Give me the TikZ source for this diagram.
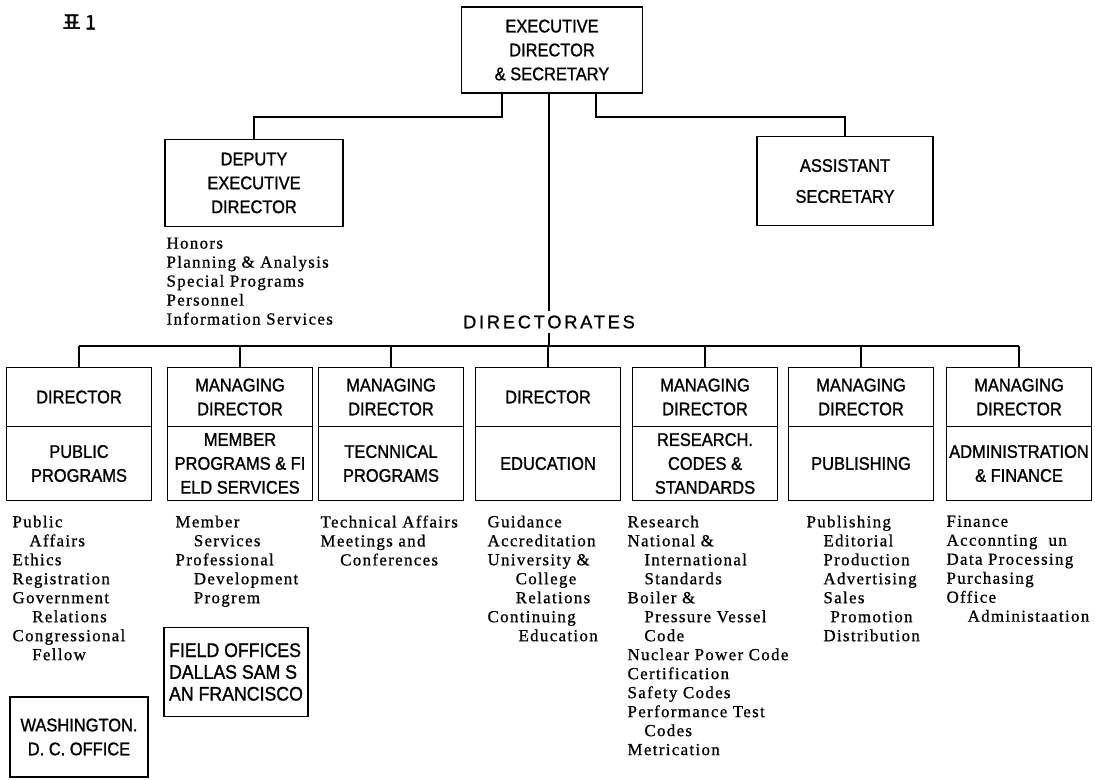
\documentclass[tikz,border=0pt]{standalone}
\usepackage{fontspec}
\setmainfont{Liberation Serif}
\newfontfamily\boxfont[FakeStretch=0.9,FakeBold=1.2]{Liberation Sans}
\newfontfamily\dirfont[LetterSpace=15,FakeBold=1]{Liberation Sans}
\newfontfamily\listfont[LetterSpace=8,FakeBold=0.8]{Liberation Serif}
\newfontfamily\krfont[FakeBold=2]{Noto Sans CJK KR}
\usetikzlibrary{positioning, calc}
\newcommand{\ind}[1][12pt]{\hspace*{#1}}

\begin{document}
\begin{tikzpicture}[
		x=0.025cm, y=-0.025cm,
		thick,
		officebox/.style={
				rectangle,
				draw,
				very thick,
				align=center,
				inner sep=0pt,
				outer sep=0pt,
				font={\boxfont\fontsize{13}{17}\selectfont}
			},
		headbox/.style={
				officebox,
				minimum width=3.625cm,
				minimum height=1.475cm
			},
		unitbox/.style={
				officebox,
				minimum width=3.625cm,
				minimum height=1.85cm,
				below=0pt of #1
			},
		duties/.style={
				anchor=north west,
				align=left,
				inner sep=0pt,
				font={\listfont\fontsize{12}{13.5}\selectfont}
			},
		]

		\useasboundingbox (0,0) rectangle (1095,779);

		\node[anchor=west, inner sep=0pt, font={\krfont\fontsize{14}{16}\selectfont}] (fig) at (62,22) {표 1};

		% top of the chart
		\node[officebox, minimum width=4.525cm, minimum height=2.15cm] (exec) at (552,50) {EXECUTIVE\\DIRECTOR\\\& SECRETARY};

		\node[officebox, minimum width=4.45cm, minimum height=2.175cm] (deputy) at (254,183) {DEPUTY\\EXECUTIVE\\DIRECTOR};

		\node[officebox, minimum width=4.4cm, minimum height=2.225cm] (assist) at (845,181) {ASSISTANT\\[5pt]SECRETARY};

		\node[duties] (depduties) at (166,237) {Honors\\Planning \& Analysis\\Special Programs\\Personnel\\Information Services};

		\node[inner sep=3pt, font={\dirfont\fontsize{13}{15}\selectfont}] (dirs) at (549,322) {DIRECTORATES};

		% directorates
		\node[headbox] (pp) at (79,397) {DIRECTOR};
		\node[unitbox=pp] (ppu) {PUBLIC\\PROGRAMS};

		\node[headbox] (mp) at (240,397) {MANAGING\\DIRECTOR};
		\node[unitbox=mp] (mpu) {MEMBER\\PROGRAMS \& FI\\ELD SERVICES};

		\node[headbox] (tp) at (391,397) {MANAGING\\DIRECTOR};
		\node[unitbox=tp] (tpu) {TECNNICAL\\PROGRAMS};

		\node[headbox] (ed) at (548,397) {DIRECTOR};
		\node[unitbox=ed] (edu) {EDUCATION};

		\node[headbox] (rc) at (705,397) {MANAGING\\DIRECTOR};
		\node[unitbox=rc] (rcu) {RESEARCH.\\CODES \&\\STANDARDS};

		\node[headbox] (pb) at (861,397) {MANAGING\\DIRECTOR};
		\node[unitbox=pb] (pbu) {PUBLISHING};

		\node[headbox] (af) at (1019,397) {MANAGING\\DIRECTOR};
		\node[unitbox=af] (afu) {ADMINISTRATION\\\& FINANCE};

		% what each directorate looks after
		\node[duties] (ppduties) at (12,515) {Public\\\ind Affairs\\Ethics\\Registration\\Government\\\ind[14pt]Relations\\Congressional\\\ind[14pt]Fellow};

		\node[duties] (mpduties) at (175,515) {Member\\\ind[13pt]Services\\Professional\\\ind[13pt]Development\\\ind[13pt]Progrem};

		\node[duties] (tpduties) at (320,515) {Technical Affairs\\Meetings and\\\ind[14pt]Conferences};

		\node[duties] (edduties) at (487,515) {Guidance\\Accreditation\\University \&\\\ind[20pt]College\\\ind[20pt]Relations\\Continuing\\\ind[22pt]Education};

		\node[duties] (rcduties) at (627,515) {Research\\National \&\\\ind International\\\ind Standards\\Boiler \&\\\ind Pressure Vessel\\\ind Code\\Nuclear Power Code\\Certification\\Safety Codes\\Performance Test\\\ind Codes\\Metrication};

		\node[duties] (pbduties) at (806,515) {Publishing\\\ind Editorial\\\ind Production\\\ind Advertising\\\ind Sales\\\ind[17pt]Promotion\\\ind Distribution};

		\node[duties] (afduties) at (946,515) {Finance\\Acconnting\ \ un\\Data Processing\\Purchasing\\Office\\\ind[15pt]Administaation};

		% field offices
		\node[officebox, align=left, minimum width=3.6cm, minimum height=2.225cm, font={\boxfont\fontsize{14}{17}\selectfont}] (field) at (236,672) {FIELD OFFICES\\[-1.5pt]DALLAS SAM S\\[-1.5pt]AN FRANCISCO};

		\node[officebox, minimum width=3.45cm, minimum height=2cm] (wash) at (79,737) {WASHINGTON.\\D. C. OFFICE};

		% connectors
		\draw ($(exec.south)+(-50,0)$) -- ++(0,24) -| (deputy.north);

		\draw ($(exec.south)+(44,0)$) -- ++(0,24) -| (assist.north);

		\draw (dirs.north) -- (dirs.north |- exec.south);

		\coordinate (bus) at (549,346);

		\draw (dirs.south) -- (bus);

		\draw (bus -| pp.north) -- (bus -| af.north);

		\foreach \unit in {pp,mp,tp,ed,rc,pb,af}
			\draw (\unit.north) -- (bus -| \unit.north);

	\end{tikzpicture}
\end{document}
